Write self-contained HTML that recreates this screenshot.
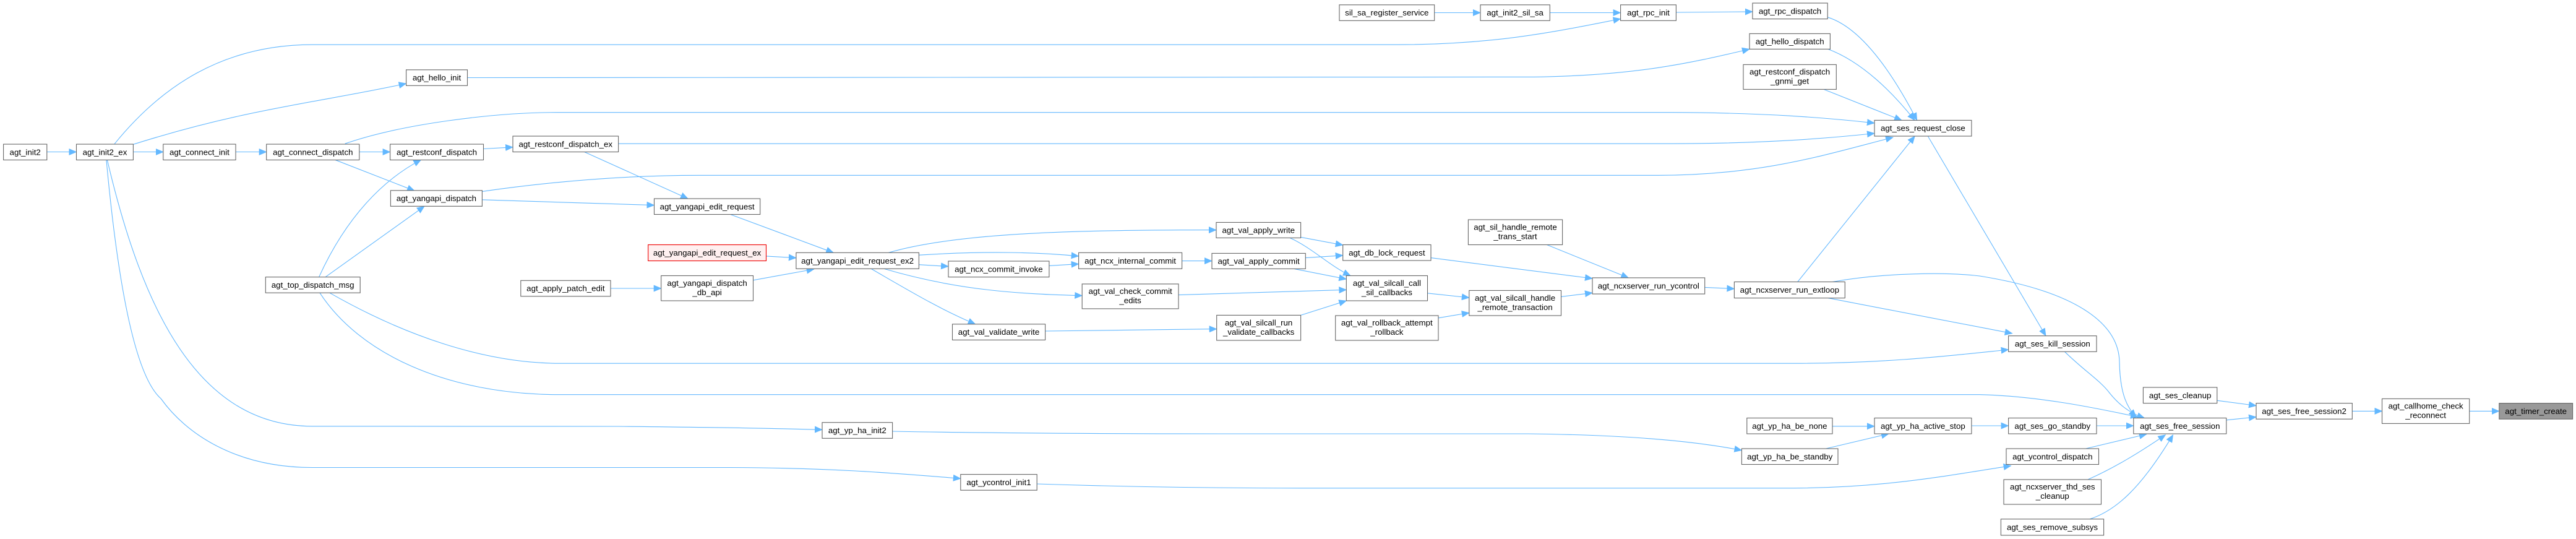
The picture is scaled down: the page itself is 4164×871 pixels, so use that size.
<!DOCTYPE html>
<html><head><meta charset="utf-8"><style>
html,body{margin:0;padding:0;background:#fff;}
svg{display:block}
text{font-family:"Liberation Sans",Arial,sans-serif;font-size:13.3px;fill:#000;text-anchor:middle}
.e{fill:none;stroke:#63b8ff;stroke-width:1.1}
.n{fill:#fff;stroke:#666;stroke-width:1.1}
</style></head><body>
<svg width="4164" height="871" viewBox="0 0 4164 871" xmlns="http://www.w3.org/2000/svg">
<defs><marker id="a" markerUnits="userSpaceOnUse" markerWidth="13" markerHeight="11" refX="12" refY="5.5" orient="auto"><path d="M0,0 L13,5.5 L0,11 z" fill="#63b8ff"/></marker></defs>
<g class="e" marker-end="url(#a)">
<path d="M75.8,245.5 L123.5,245.5"/>
<path d="M215.4,245.5 L263.8,245.5"/>
<path d="M381,245.5 L430.7,245.5"/>
<path d="M581,245.5 L630.6,245.5"/>
<path d="M541.6,258.3 L670,308.3"/>
<path d="M781.5,240.5 L829,237.8"/>
<path d="M943.5,245 L1112,321"/>
<path d="M779.4,322.8 L1057.5,331.6"/>
<path d="M515.6,447.7 C560,350 620,290 680.5,258.3"/>
<path d="M526,447.7 L686,333.3"/>
<path d="M215.4,233.3 C400,175 520,165 656.6,135"/>
<path d="M184.5,233.3 C260,140 360,72.2 505,72.2 L2260,72.2 C2420,72 2520,50 2619.6,30.5"/>
<path d="M755.5,125.5 L2480,124.4 C2650,122 2740,100 2828,79.4"/>
<path d="M557.7,232.2 C650,200 800,181.7 900,181.7 L2700,181.7 C2850,182 2950,190 3030,198.9"/>
<path d="M999.6,232.2 L2700,232.2 C2850,232 2950,224 3030,215.5"/>
<path d="M779.4,309.4 C880,295 1000,283.3 1130,283.3 L2680,283.3 C2850,283 2950,250 3060,222"/>
<path d="M173.3,258.3 C230,500 320,688.8 505,688.8 L1000,689 C1200,691 1280,693 1329,694.4"/>
<path d="M171.9,258.3 C185,400 210,600 260,644 C300,700 380,755.5 505,755.5 L1180,755.5 C1350,756 1450,765 1552.8,773.3"/>
<path d="M533,473.3 C650,540 780,587.2 905,587.2 L2900,587.2 C3050,587 3150,575 3246.6,565"/>
<path d="M517,473.3 C580,570 720,637.7 905,637.7 L3200,637.7 C3300,640 3400,662 3456,673.8"/>
<path d="M987,466 L1068.7,466"/>
<path d="M1181,346.6 L1347.2,408.3"/>
<path d="M1238.5,413.9 L1286.9,416.7"/>
<path d="M1217.5,452.8 L1315.7,435"/>
<path d="M1436.3,408.3 C1550,375 1750,371.6 1966,371.6"/>
<path d="M1485.4,412.2 C1600,405 1680,408 1743.6,413.9"/>
<path d="M1485.4,427.7 L1533,430.5"/>
<path d="M1695.9,429.4 L1743.6,426.6"/>
<path d="M1429.3,434.4 C1550,470 1650,475 1749.2,477.7"/>
<path d="M1408.3,434.4 C1470,470 1520,500 1576.6,523.8"/>
<path d="M1910.6,421.6 L1959,421.6"/>
<path d="M1689.6,535 L1966.7,531.6"/>
<path d="M1905,476.6 L2176.3,468.3"/>
<path d="M2102.6,383.3 L2170.7,396"/>
<path d="M2085,384.4 C2120,400 2150,430 2183,445.5"/>
<path d="M2110.3,416.6 L2170.7,412.7"/>
<path d="M2092,434.4 L2176.3,451"/>
<path d="M2102.6,509.4 L2176.3,486"/>
<path d="M2313,416.6 L2574,450"/>
<path d="M2307.5,473.8 L2374.8,481"/>
<path d="M2325,513.8 L2374.8,505.5"/>
<path d="M2523.5,479.4 L2574,473.3"/>
<path d="M2500.4,395.5 L2632.3,448.9"/>
<path d="M2755.7,464.4 L2803.4,466.6"/>
<path d="M2905.8,455.5 L3095.2,220"/>
<path d="M2962,455.5 C3050,440 3150,440 3200,446 C3350,470 3425,520 3426,585 C3427,640 3440,660 3452.9,673.8"/>
<path d="M2955,481.6 L3252.7,538.8"/>
<path d="M2318.7,20.5 L2393,20.5"/>
<path d="M2505.3,20.5 L2619.6,20.5"/>
<path d="M2709.4,20 L2832.9,18.9"/>
<path d="M2954.2,27.8 C3010,45 3060,120 3098.7,194.4"/>
<path d="M2955,79.4 C3010,100 3060,150 3095,194.4"/>
<path d="M2948,144.4 L3074,194.4"/>
<path d="M3116.3,220 L3307,542.7"/>
<path d="M3337.5,568.3 C3370,600 3395,615 3410,635 C3430,660 3450,670 3466.4,675.5"/>
<path d="M3583.8,647.2 L3647,655.5"/>
<path d="M3598.8,678.8 L3647,673.8"/>
<path d="M3802.3,664.4 L3850.5,664.4"/>
<path d="M3991.7,664.4 L4039.8,664.4"/>
<path d="M3389,688 L3448.8,688"/>
<path d="M3186.9,688 L3246.6,688"/>
<path d="M2962,688.8 L3030,688.8"/>
<path d="M2951.4,725 L3053,701"/>
<path d="M1442.6,697 C1600,700 1800,701 2000,701 L2470,701 C2650,703 2750,715 2815.4,727.7"/>
<path d="M1676.2,782 C1800,786 1950,788.8 2100,788.8 L2900,788.8 C3050,788 3150,768 3250.6,752.7"/>
<path d="M3371.4,725 L3469.8,701.6"/>
<path d="M3374.8,775 C3420,755 3460,730 3500.4,702.7"/>
<path d="M3378.2,838.8 C3420,825 3460,790 3512.6,702.7"/>
</g>
<g>
<rect class="n" x="5.6" y="233" width="70.2" height="25.5"/><text x="40.7" y="250.3">agt_init2</text>
<rect class="n" x="123.5" y="233" width="91.9" height="25.5"/><text x="169.5" y="250.3">agt_init2_ex</text>
<rect class="n" x="263.8" y="233" width="117.2" height="25.5"/><text x="322.4" y="250.3">agt_connect_init</text>
<rect class="n" x="430.7" y="233" width="150.1" height="25.5"/><text x="505.8" y="250.3">agt_connect_dispatch</text>
<rect class="n" x="630.6" y="233" width="150.9" height="25.5"/><text x="706" y="250.3">agt_restconf_dispatch</text>
<rect class="n" x="829" y="220" width="170.6" height="25.5"/><text x="914.3" y="237.3">agt_restconf_dispatch_ex</text>
<rect class="n" x="656.6" y="112.8" width="98.9" height="25.5"/><text x="706" y="130.1">agt_hello_init</text>
<rect class="n" x="631.4" y="307.8" width="148" height="25.5"/><text x="705.4" y="325.1">agt_yangapi_dispatch</text>
<rect class="n" x="429.3" y="447.7" width="152.9" height="25.5"/><text x="505.7" y="465">agt_top_dispatch_msg</text>
<rect class="n" x="841.8" y="453.3" width="145.2" height="25.5"/><text x="914.4" y="470.6">agt_apply_patch_edit</text>
<rect class="n" x="1057.5" y="321" width="171.2" height="25.5"/><text x="1143.1" y="338.3">agt_yangapi_edit_request</text>
<rect x="1047.7" y="395.5" width="190.8" height="26" fill="#fff0f0" stroke="#e00" stroke-width="1.1"/><text x="1143.1" y="413">agt_yangapi_edit_request_ex</text>
<rect class="n" x="1068.7" y="445.5" width="148.8" height="40.5"/><text x="1143.1" y="462">agt_yangapi_dispatch</text><text x="1143.1" y="477">_db_api</text>
<rect class="n" x="1286.9" y="408.3" width="198.5" height="26"/><text x="1386.1" y="425.8">agt_yangapi_edit_request_ex2</text>
<rect class="n" x="1533" y="422" width="162.9" height="25.7"/><text x="1614.4" y="439.4">agt_ncx_commit_invoke</text>
<rect class="n" x="1743.6" y="408.3" width="167" height="26"/><text x="1827.1" y="425.8">agt_ncx_internal_commit</text>
<rect class="n" x="1966" y="359.4" width="136.6" height="25"/><text x="2034.3" y="376.4">agt_val_apply_write</text>
<rect class="n" x="1959" y="409.4" width="151.3" height="25"/><text x="2034.6" y="426.4">agt_val_apply_commit</text>
<rect class="n" x="1749.2" y="458.9" width="155.8" height="40"/><text x="1827.1" y="475">agt_val_check_commit</text><text x="1827.1" y="490">_edits</text>
<rect class="n" x="1539.5" y="523.8" width="150.1" height="25.6"/><text x="1614.5" y="541.1">agt_val_validate_write</text>
<rect class="n" x="1966.7" y="509.4" width="135.9" height="40.6"/><text x="2034.6" y="526">agt_val_silcall_run</text><text x="2034.6" y="541">_validate_callbacks</text>
<rect class="n" x="1329" y="682.7" width="113.6" height="25.6"/><text x="1385.8" y="700">agt_yp_ha_init2</text>
<rect class="n" x="1552.8" y="766.6" width="123.4" height="25.6"/><text x="1614.5" y="783.9">agt_ycontrol_init1</text>
<rect class="n" x="2165" y="7.8" width="153.7" height="25.5"/><text x="2241.8" y="25.1">sil_sa_register_service</text>
<rect class="n" x="2393" y="7.8" width="112.3" height="25.5"/><text x="2449.1" y="25.1">agt_init2_sil_sa</text>
<rect class="n" x="2619.6" y="7.8" width="89.8" height="25.5"/><text x="2664.5" y="25.1">agt_rpc_init</text>
<rect class="n" x="2832.9" y="5" width="121.3" height="25.6"/><text x="2893.5" y="22.3">agt_rpc_dispatch</text>
<rect class="n" x="2828" y="54.4" width="130.4" height="25"/><text x="2893.2" y="71.4">agt_hello_dispatch</text>
<rect class="n" x="2818" y="104.4" width="150.3" height="40"/><text x="2893.1" y="120.5">agt_restconf_dispatch</text><text x="2893.1" y="135.5">_gnmi_get</text>
<rect class="n" x="3030" y="194.4" width="156.9" height="25.6"/><text x="3108.4" y="211.7">agt_ses_request_close</text>
<rect class="n" x="2170.7" y="395.5" width="142.3" height="25.5"/><text x="2241.8" y="412.8">agt_db_lock_request</text>
<rect class="n" x="2176.3" y="445.5" width="131.2" height="40.5"/><text x="2241.9" y="462">agt_val_silcall_call</text><text x="2241.9" y="477">_sil_callbacks</text>
<rect class="n" x="2158.7" y="510" width="166.3" height="40"/><text x="2241.8" y="526">agt_val_rollback_attempt</text><text x="2241.8" y="541">_rollback</text>
<rect class="n" x="2374.8" y="469.4" width="148.7" height="40.6"/><text x="2449.1" y="486">agt_val_silcall_handle</text><text x="2449.1" y="501">_remote_transaction</text>
<rect class="n" x="2373.4" y="355" width="152.2" height="40.5"/><text x="2449.5" y="371.5">agt_sil_handle_remote</text><text x="2449.5" y="386.5">_trans_start</text>
<rect class="n" x="2574" y="448.9" width="181.7" height="26.1"/><text x="2664.8" y="466.5">agt_ncxserver_run_ycontrol</text>
<rect class="n" x="2803.4" y="455.5" width="178.9" height="26.1"/><text x="2892.8" y="473.1">agt_ncxserver_run_extloop</text>
<rect class="n" x="2823.8" y="675.5" width="138.2" height="25.5"/><text x="2892.9" y="692.8">agt_yp_ha_be_none</text>
<rect class="n" x="2815.4" y="725" width="155.6" height="25.5"/><text x="2893.2" y="742.3">agt_yp_ha_be_standby</text>
<rect class="n" x="3030" y="675.5" width="156.9" height="25.5"/><text x="3108.4" y="692.8">agt_yp_ha_active_stop</text>
<rect class="n" x="3246.6" y="542.7" width="142.4" height="25.6"/><text x="3317.8" y="560">agt_ses_kill_session</text>
<rect class="n" x="3464.4" y="626" width="119.4" height="25.6"/><text x="3524.1" y="643.3">agt_ses_cleanup</text>
<rect class="n" x="3647" y="651.6" width="155.3" height="25.6"/><text x="3724.6" y="668.9">agt_ses_free_session2</text>
<rect class="n" x="3850.5" y="644.4" width="141.2" height="40"/><text x="3921.1" y="660.5">agt_callhome_check</text><text x="3921.1" y="675.5">_reconnect</text>
<rect x="4039.8" y="651.6" width="118.8" height="25.6" fill="#999" stroke="#666" stroke-width="1.1"/><text x="4099.2" y="668.9">agt_timer_create</text>
<rect class="n" x="3246.6" y="675.5" width="142.4" height="25.5"/><text x="3317.8" y="692.8">agt_ses_go_standby</text>
<rect class="n" x="3448.8" y="675.5" width="150" height="25.5"/><text x="3523.8" y="692.8">agt_ses_free_session</text>
<rect class="n" x="3243" y="725" width="149.5" height="25.5"/><text x="3317.8" y="742.3">agt_ycontrol_dispatch</text>
<rect class="n" x="3239" y="775" width="157.5" height="40"/><text x="3317.8" y="791">agt_ncxserver_thd_ses</text><text x="3317.8" y="806">_cleanup</text>
<rect class="n" x="3234.4" y="838.8" width="166.2" height="26.2"/><text x="3317.5" y="856.3">agt_ses_remove_subsys</text>
</g>
</svg>
</body></html>
